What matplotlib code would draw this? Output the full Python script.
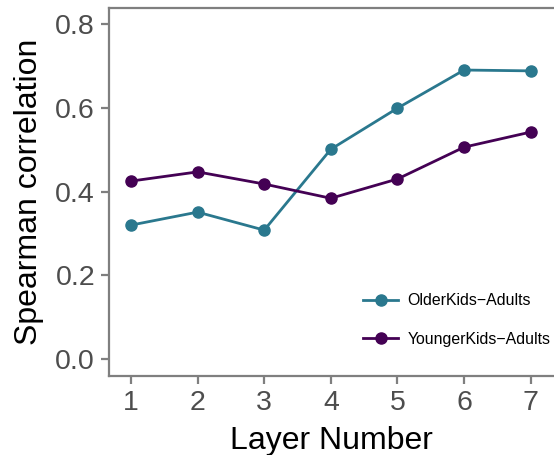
import matplotlib
matplotlib.use("Agg")
import matplotlib.pyplot as plt

plt.rcParams['font.family'] = ['Liberation Sans', 'DejaVu Sans']

layers = [1, 2, 3, 4, 5, 6, 7]
older_kids = [0.320, 0.351, 0.308, 0.501, 0.599, 0.690, 0.688]
younger_kids = [0.425, 0.447, 0.418, 0.384, 0.430, 0.506, 0.542]

teal = '#2A788E'
purple = '#440154'
grey = '#7F7F7F'

fig = plt.figure(figsize=(5.54, 4.55), dpi=100)
ax = fig.add_axes([109/554, (455-376)/455, 1 - 109/554, (376-8)/455])

ax.plot(layers, older_kids, color=teal, lw=2, marker='o', ms=8, label='OlderKids\u2212Adults')
ax.plot(layers, younger_kids, color=purple, lw=2, marker='o', ms=8, label='YoungerKids\u2212Adults')

ax.set_xlim(0.67, 7.35)
ax.set_ylim(-0.04, 0.838)
ax.set_xticks(layers)
ax.set_yticks([0.0, 0.2, 0.4, 0.6, 0.8])
ax.set_yticklabels(['0.0', '0.2', '0.4', '0.6', '0.8'])

ax.spines['right'].set_visible(False)
for s in ['left', 'top', 'bottom']:
    ax.spines[s].set_color(grey)
    ax.spines[s].set_linewidth(1.6)

ax.tick_params(axis='both', colors=grey, width=1.6, length=6, labelsize=20.5,
               labelcolor='#4D4D4D', pad=4)

ax.set_xlabel('Layer Number', fontsize=23, color='black', labelpad=7)
ax.set_ylabel('Spearman correlation', fontsize=23, color='black', labelpad=8)

ax.legend(loc='lower right', bbox_to_anchor=(1.024, 0.04), frameon=False, fontsize=11.4,
          handlelength=2.2, labelspacing=1.5, handletextpad=0.6)

fig.savefig('out.png', dpi=100)
